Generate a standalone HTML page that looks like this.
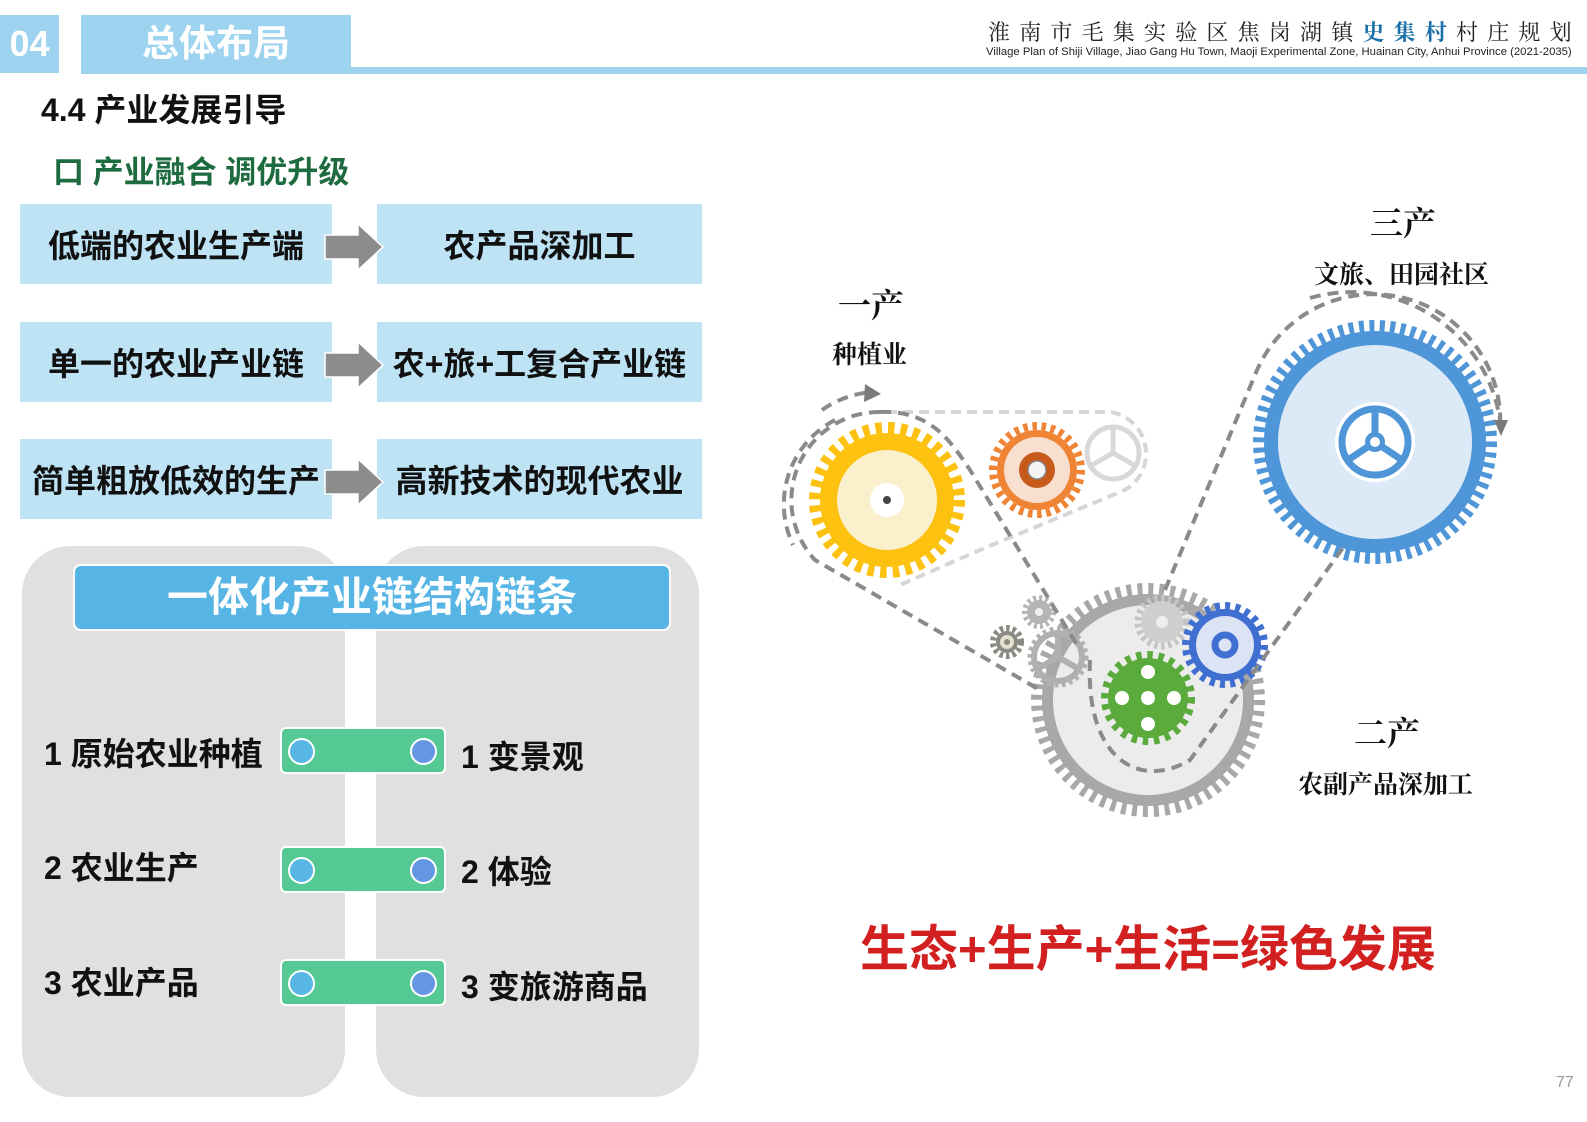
<!DOCTYPE html>
<html><head><meta charset="utf-8"><style>
*{margin:0;padding:0;box-sizing:border-box}
body{width:1587px;height:1122px;background:#fff;position:relative;overflow:hidden;font-family:"Liberation Sans","Noto Sans CJK SC",sans-serif}
.a{position:absolute}
.box{position:absolute;background:#bde3f5;display:flex;align-items:center;justify-content:center;font-weight:bold;font-size:32px;color:#111;height:80px}
.lt{position:absolute;font-weight:bold;font-size:32px;color:#111}
.bar{position:absolute;left:280px;width:166px;height:47px;background:#55c993;border:2px solid #fff;border-radius:6px}
.bar i{position:absolute;top:9px;width:27px;height:27px;border-radius:50%;border:2px solid #fff}
.serif{font-family:"Liberation Serif","Noto Serif CJK SC",serif;font-weight:bold;color:#111}
</style></head><body>
<div class="a" style="left:0;top:15px;width:59px;height:58px;background:#9dd3ef;color:#fff;font-weight:bold;font-size:36px;line-height:58px;text-align:center">04</div>
<div class="a" style="left:81px;top:15px;width:270px;height:53px;background:#9dd3ef;color:#fff;font-weight:bold;font-size:37px;line-height:57px;text-align:center">总体布局</div>
<div class="a" style="left:81px;top:67px;width:1506px;height:7px;background:#9dd3ef"></div>
<div class="a serif" style="left:988px;top:16px;font-size:22px;font-weight:normal;letter-spacing:9.2px;color:#222">淮南市毛集实验区焦岗湖镇<span style="color:#1a6fa8;font-weight:bold">史集村</span>村庄规划</div>
<div class="a" style="left:986px;top:46px;font-size:11.3px;color:#222;white-space:nowrap">Village Plan of Shiji Village, Jiao Gang Hu Town, Maoji Experimental Zone, Huainan City, Anhui Province (2021-2035)</div>
<div class="a" style="left:41px;top:85px;font-size:32px;font-weight:bold;color:#111">4.4 产业发展引导</div>
<div class="a" style="left:53px;top:147px;font-size:31px;font-weight:bold;color:#1d6b3e">口 产业融合 调优升级</div>

<div class="box" style="left:20px;top:204px;width:312px">低端的农业生产端</div>
<div class="box" style="left:377px;top:204px;width:325px">农产品深加工</div>
<div class="box" style="left:20px;top:322px;width:312px">单一的农业产业链</div>
<div class="box" style="left:377px;top:322px;width:325px">农+旅+工复合产业链</div>
<div class="box" style="left:20px;top:439px;width:312px">简单粗放低效的生产</div>
<div class="box" style="left:377px;top:439px;width:325px">高新技术的现代农业</div>
<svg class="a" style="left:0;top:0" width="400" height="530">
<g fill="#8c8c8c" stroke="#fff" stroke-width="1.5">
<path d="M325 235h33v-11l25 23-25 23v-11h-33z"/>
<path d="M325 353h33v-11l25 23-25 23v-11h-33z"/>
<path d="M325 470h33v-11l25 23-25 23v-11h-33z"/>
</g></svg>

<div class="a" style="left:22px;top:546px;width:323px;height:551px;background:#e0e0e0;border-radius:48px"></div>
<div class="a" style="left:376px;top:546px;width:323px;height:551px;background:#e0e0e0;border-radius:48px"></div>
<div class="a" style="left:73px;top:564px;width:598px;height:67px;background:#57b5e5;border:2px solid #fff;border-radius:8px;color:#fff;font-weight:bold;font-size:41px;line-height:63px;text-align:center">一体化产业链结构链条</div>
<div class="lt" style="left:44px;top:729px">1 原始农业种植</div>
<div class="lt" style="left:461px;top:732px">1 变景观</div>
<div class="lt" style="left:44px;top:843px">2 农业生产</div>
<div class="lt" style="left:461px;top:847px">2 体验</div>
<div class="lt" style="left:44px;top:958px">3 农业产品</div>
<div class="lt" style="left:461px;top:962px">3 变旅游商品</div>
<div class="bar" style="top:727px"><i style="left:6px;background:#58b6e4"></i><i style="left:128px;background:#6496e4"></i></div>
<div class="bar" style="top:846px"><i style="left:6px;background:#58b6e4"></i><i style="left:128px;background:#6496e4"></i></div>
<div class="bar" style="top:959px"><i style="left:6px;background:#58b6e4"></i><i style="left:128px;background:#6496e4"></i></div>

<svg class="a" style="left:0;top:0" width="1587" height="1122">
<path d="M887 412 L1110 412 A42 42 0 0 1 1125 490 L980 550 L900 585" fill="none" stroke="#d6d6d6" stroke-width="4" stroke-dasharray="10 6"/>
<circle cx="1148" cy="700" r="111" fill="none" stroke="#a8a8a8" stroke-width="12" stroke-dasharray="5 5.9"/>
<circle cx="1148" cy="700" r="106" fill="#a8a8a8"/>
<circle cx="1148" cy="700" r="95" fill="#ececec"/>
<g fill="#b5b5b5">
<circle cx="1039" cy="612" r="14" fill="none" stroke="#b5b5b5" stroke-width="6" stroke-dasharray="3 3"/><circle cx="1039" cy="612" r="12"/><circle cx="1039" cy="612" r="4" fill="#eee"/>
<circle cx="1058" cy="657" r="27" fill="none" stroke="#b0b0b0" stroke-width="7" stroke-dasharray="3.5 3.5"/><circle cx="1058" cy="657" r="24" fill="none" stroke="#b0b0b0" stroke-width="6"/>
<path d="M1058 657l0-22M1058 657l19 11M1058 657l-19 11" stroke="#b0b0b0" stroke-width="6"/>
<circle cx="1162" cy="622" r="24" fill="none" stroke="#c4c4c4" stroke-width="7" stroke-dasharray="3.5 3.5"/><circle cx="1162" cy="622" r="21" fill="#cfcfcf"/><circle cx="1162" cy="622" r="6" fill="#eee"/>
</g>
<circle cx="1007" cy="642" r="14" fill="none" stroke="#8a8a82" stroke-width="6" stroke-dasharray="3.5 3"/><circle cx="1007" cy="642" r="11" fill="#8a8a82"/><circle cx="1007" cy="642" r="7" fill="#e3e1cf"/><circle cx="1007" cy="642" r="3" fill="#8a8a82"/>
<circle cx="1148" cy="698" r="43" fill="none" stroke="#5aaa3c" stroke-width="8" stroke-dasharray="5.5 5.7"/>
<circle cx="1148" cy="698" r="40" fill="#5aaa3c"/>
<g fill="#fff"><circle cx="1148" cy="698" r="7"/><circle cx="1148" cy="672" r="7"/><circle cx="1148" cy="724" r="7"/><circle cx="1122" cy="698" r="7"/><circle cx="1174" cy="698" r="7"/></g>
<circle cx="1225" cy="645" r="39" fill="none" stroke="#3f6fd1" stroke-width="8" stroke-dasharray="5 5.2"/>
<circle cx="1225" cy="645" r="36" fill="#3f6fd1"/><circle cx="1225" cy="645" r="29" fill="#dbe3f4"/>
<circle cx="1225" cy="645" r="10" fill="none" stroke="#3f6fd1" stroke-width="7"/>
<circle cx="887" cy="500" r="72" fill="none" stroke="#fdc110" stroke-width="12" stroke-dasharray="6.5 6.1"/>
<circle cx="887" cy="500" r="67" fill="#fdc110"/><circle cx="887" cy="500" r="50" fill="#fbf0cc"/>
<circle cx="887" cy="500" r="17" fill="#fff"/><circle cx="887" cy="500" r="4" fill="#444"/>
<circle cx="1037" cy="470" r="44" fill="none" stroke="#ef8434" stroke-width="8" stroke-dasharray="4.5 4.7"/>
<circle cx="1037" cy="470" r="40" fill="#ef8434"/><circle cx="1037" cy="470" r="33" fill="#f8dfd0"/>
<circle cx="1037" cy="470" r="18" fill="#c75a1a"/><circle cx="1037" cy="470" r="9" fill="#f5f5f5" stroke="#888" stroke-width="1.5"/>
<circle cx="1113" cy="453" r="26" fill="none" stroke="#d8d8d8" stroke-width="5"/>
<path d="M1113 453l0-24M1113 453l21 12M1113 453l-21 12" stroke="#d8d8d8" stroke-width="5"/>
<circle cx="1375" cy="442" r="116" fill="none" stroke="#4f96d8" stroke-width="12" stroke-dasharray="5 5.4"/>
<circle cx="1375" cy="442" r="111" fill="#4f96d8"/><circle cx="1375" cy="442" r="97" fill="#dce9f6"/>
<circle cx="1375" cy="442" r="40" fill="#fff"/>
<circle cx="1375" cy="442" r="33" fill="none" stroke="#4f96d8" stroke-width="7"/>
<path d="M1375 442l0-32M1375 442l-27 18M1375 442l27 18" stroke="#4f96d8" stroke-width="7"/>
<circle cx="1375" cy="442" r="10" fill="#4f96d8"/><circle cx="1375" cy="442" r="5" fill="#fff"/>
<g fill="none" stroke="#8a8a8a" stroke-width="4" stroke-dasharray="11 7">
<path d="M880 412 A88 88 0 0 0 815 560 L1040 690"/>
<path d="M880 412 C930 410 950 440 970 470 L1080 650"/>
<path d="M1090 660 C1085 760 1140 790 1190 760 L1345 545"/>
<path d="M1165 590 L1255 375 A127 127 0 0 1 1500 430"/>
<path d="M835 420 A95 95 0 0 0 793 545"/>
<path d="M822 410 A100 100 0 0 1 872 392"/>
<path d="M1310 298 A150 150 0 0 1 1500 420"/>
</g>
<path d="M865 384l16 10-17 8z" fill="#7a7a7a"/>
<path d="M1494 420l14 0-7 16z" fill="#7a7a7a"/>
</svg>
<div class="a serif" style="left:838px;top:280px;font-size:33px">一产</div>
<div class="a serif" style="left:832px;top:335px;font-size:25px">种植业</div>
<div class="a serif" style="left:1370px;top:198px;font-size:33px">三产</div>
<div class="a serif" style="left:1314px;top:255px;font-size:25px">文旅、田园社区</div>
<div class="a serif" style="left:1354px;top:708px;font-size:33px">二产</div>
<div class="a serif" style="left:1298px;top:765px;font-size:25px">农副产品深加工</div>
<div class="a" style="left:860px;top:910px;font-size:49px;font-weight:bold;color:#d21f1f;white-space:nowrap">生态+生产+生活=绿色发展</div>
<div class="a" style="left:1556px;top:1074px;font-size:16px;color:#999">77</div>
</body></html>
